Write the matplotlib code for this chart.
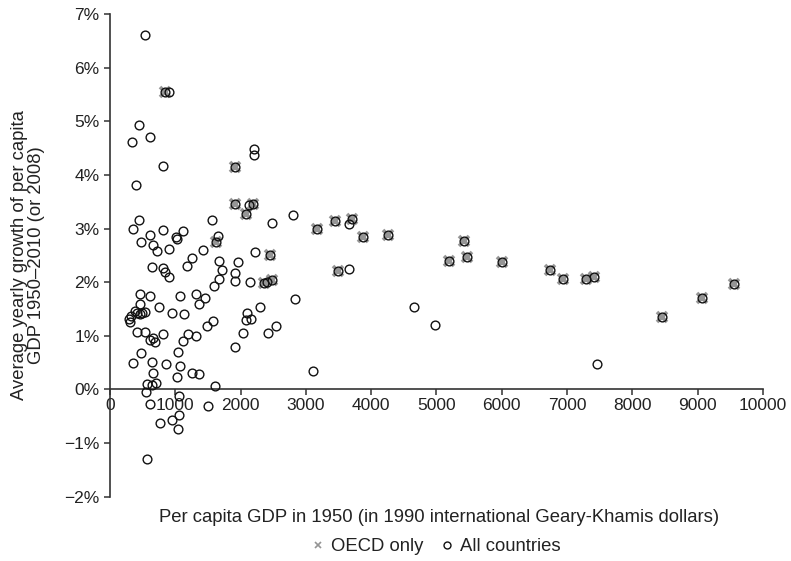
import matplotlib
matplotlib.use("Agg")
import matplotlib.pyplot as plt
from matplotlib.lines import Line2D

plt.rcParams['font.family'] = ['Liberation Sans', 'DejaVu Sans']

# per capita GDP in 1950 and average yearly growth (%) -- all countries
all_gdp = [535, 850, 912, 444, 617, 342, 812, 1919, 2210, 2210, 394,
           1910, 2129, 2185, 2078, 2807, 444, 1562, 2481, 348, 812, 1113,
           613, 1006, 1031, 1649, 479, 1619, 654, 715, 908, 1424, 2220,
           2445, 1251, 1665, 1956, 639, 1175, 812, 847, 908, 1720, 1914,
           1665, 1910, 2149, 2359, 2400, 2481, 1597, 2833, 459, 613, 1067,
           1317, 1450, 464, 1358, 746, 383, 418, 464, 531, 494, 954, 1128,
           322, 286, 302, 2302, 2098, 2078, 2159, 1582, 1481, 2538, 2041,
           2424, 418, 540, 816, 613, 663, 689, 1190, 1312, 1113, 1910, 475,
           1046, 352, 643, 853, 1077, 658, 1256, 1358, 1031, 562, 700, 639,
           1608, 556, 1052, 613, 1496, 1052, 945, 766, 1046, 567,
           3170, 3450, 3706, 3665, 3879, 4252, 5426, 5187, 5467, 5998, 3496,
           3665, 4651, 4982, 3104, 6738, 6937, 7289, 7417, 7458, 8454, 9061,
           9561]
all_growth = [6.62, 5.55, 5.55, 4.93, 4.71, 4.62, 4.16, 4.15, 4.48, 4.38, 3.81,
              3.46, 3.44, 3.46, 3.27, 3.26, 3.17, 3.17, 3.10, 2.99, 2.97, 2.96,
              2.88, 2.85, 2.80, 2.87, 2.76, 2.75, 2.69, 2.59, 2.62, 2.61, 2.57,
              2.51, 2.46, 2.39, 2.38, 2.29, 2.31, 2.27, 2.19, 2.10, 2.23, 2.18,
              2.07, 2.02, 2.00, 1.99, 2.01, 2.04, 1.93, 1.69, 1.79, 1.75, 1.75,
              1.79, 1.71, 1.60, 1.59, 1.54, 1.47, 1.43, 1.41, 1.45, 1.43, 1.42, 1.40,
              1.37, 1.32, 1.26, 1.54, 1.43, 1.29, 1.31, 1.27, 1.18, 1.18, 1.06,
              1.05, 1.08, 1.08, 1.03, 0.93, 0.96, 0.88, 1.03, 0.99, 0.90, 0.79, 0.69,
              0.70, 0.50, 0.52, 0.48, 0.44, 0.31, 0.31, 0.28, 0.24, 0.11, 0.12, 0.08,
              0.07, -0.04, -0.13, -0.27, -0.30, -0.47, -0.57, -0.62, -0.73, -1.30,
              3.00, 3.15, 3.18, 3.08, 2.84, 2.88, 2.77, 2.40, 2.48, 2.37, 2.21,
              2.24, 1.53, 1.21, 0.35, 2.23, 2.07, 2.07, 2.10, 0.47, 1.36, 1.71,
              1.96]

# OECD members (subset of the above)
oecd_gdp = [850, 1919, 1910, 2185, 2078, 1619, 2445, 2359, 2481,
            3170, 3450, 3706, 3879, 4252, 5426, 5187, 5467, 5998, 3496,
            6738, 6937, 7289, 7417, 8454, 9061, 9561]
oecd_growth = [5.55, 4.15, 3.46, 3.46, 3.27, 2.75, 2.51, 1.99, 2.04,
               3.00, 3.15, 3.18, 2.84, 2.88, 2.77, 2.40, 2.48, 2.37, 2.21,
               2.23, 2.07, 2.07, 2.10, 1.36, 1.71, 1.96]

x_ticks = list(range(0, 10001, 1000))
y_ticks = [-2, -1, 0, 1, 2, 3, 4, 5, 6, 7]
y_ticklabels = ['\u22122%', '\u22121%', '0%', '1%', '2%', '3%', '4%', '5%', '6%', '7%']

fig = plt.figure(figsize=(7.91, 5.61), dpi=100)
ax = fig.add_axes([0.139, 0.1146, 0.8255, 0.860])

ax.plot(oecd_gdp, oecd_growth, linestyle='none', marker='x', markersize=7.5,
        markeredgewidth=2.6, color='#959595', zorder=3)
ax.plot(all_gdp, all_growth, linestyle='none', marker='o', markersize=6.3,
        markerfacecolor='none', markeredgecolor='#111111', markeredgewidth=1.0,
        zorder=4)

ax.set_xlim(0, 10000)
ax.set_ylim(-2, 7)
ax.set_xticks(x_ticks)
ax.set_xticklabels([str(v) for v in x_ticks])
ax.set_yticks(y_ticks)
ax.set_yticklabels(y_ticklabels)

ax.spines['top'].set_visible(False)
ax.spines['right'].set_visible(False)
ax.spines['bottom'].set_position(('data', 0))
for s in ('left', 'bottom'):
    ax.spines[s].set_color('#333333')
    ax.spines[s].set_linewidth(1.2)
ax.tick_params(direction='out', length=4, width=1.1, color='#333333',
               labelsize=12.5, labelcolor='#222222')
ax.tick_params(axis='x', pad=2)

# axis titles
fig.text(28 / 791, 1 - 255 / 561,
         'Average yearly growth of per capita\nGDP 1950\u20132010 (or 2008)',
         rotation=90, ha='center', va='center', fontsize=13.3, color='#222222',
         linespacing=1.05, multialignment='center')
fig.text(0.555, 0.077, 'Per capita GDP in 1950 (in 1990 international Geary-Khamis dollars)',
         ha='center', va='center', fontsize=13.3, color='#222222')

handles = [
    Line2D([0], [0], linestyle='none', marker='x', markersize=5, markeredgewidth=1.2,
           color='#959595', label='OECD only'),
    Line2D([0], [0], linestyle='none', marker='o', markersize=5, markerfacecolor='none',
           markeredgecolor='#111111', markeredgewidth=1.0, label='All countries'),
]
fig.legend(handles=handles, loc='center', bbox_to_anchor=(0.552, 0.025), ncol=2,
           frameon=False, fontsize=13.3, handlelength=0.6, handletextpad=0.4,
           columnspacing=1.0, labelcolor='#222222')

fig.savefig('out.png', dpi=100)
